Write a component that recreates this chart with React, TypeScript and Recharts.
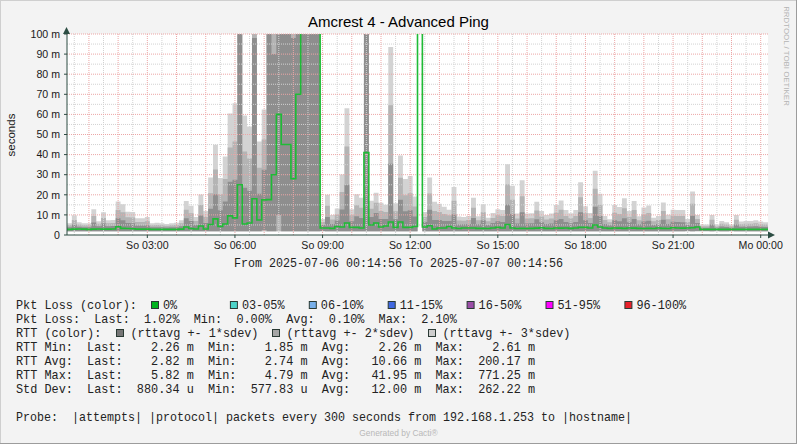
import React from 'react';
import { ComposedChart, Area, Line, XAxis, YAxis, CartesianGrid, ReferenceLine } from 'recharts';

// 10 minute samples, first one at 00:15 (hours since Sunday 00:00)
const START_H = 0.25;
const STEP_H = 1 / 6;

// median RTT (ms) per sample
const rttMed = [
  2.8, 2.9, 3.0, 2.9, 2.8, 2.9, 3.0, 2.9, 2.9, 3.0, 4.1, 3.3,
  3.2, 3.1, 2.9, 2.9, 2.9, 2.8, 2.8, 2.8, 2.8, 2.8, 2.8, 2.9,
  4.0, 3.2, 3.0, 4.5, 3.0, 5.2, 8.0, 4.3, 5.5, 9.5, 8.5, 25,
  5.5, 6, 18, 7.5, 17.5, 17.6, 30, 60, 45, 45, 28, 70,
  160, 180, 180, 180, 3.5, 3.5, 3.3, 4.2, 4.0, 6.0, 3.8, 3.8,
  3.5, 41, 5.0, 6.0, 4.0, 4.5, 6.5, 3.8, 6.5, 3.8, 3.8, 4.2,
  200, 4.0, 4.6, 3.0, 3.5, 3.5, 4.2, 3.5, 3.2, 3.5, 3.5, 3.5,
  3.3, 3.3, 3.2, 3.5, 3.8, 3.5, 5.2, 3.5, 3.2, 3.3, 3.2, 3.3,
  3.4, 3.6, 3.3, 3.2, 3.5, 3.4, 3.5, 3.3, 3.5, 3.8, 3.8, 3.5,
  5.0, 4.0, 3.5, 3.3, 3.5, 3.4, 3.3, 3.5, 3.4, 3.3, 3.2, 3.3,
  3.2, 3.5, 3.3, 3.2, 3.6, 3.5, 3.4, 3.5, 3.6, 4.0, 2.8, 2.8,
  2.8, 2.8, 2.8, 2.8, 2.8, 2.8, 2.8, 2.8, 2.8, 2.8, 2.8, 2.8,
];

// standard deviation (ms) per sample
const rttSdev = [
  1.0, 2.3, 1.1, 1.0, 1.0, 3.3, 1.3, 2.8, 1.5, 1.5, 4.2, 4.0,
  2.8, 2.8, 1.8, 1.8, 2.0, 1.0, 1.1, 1.0, 0.9, 1.0, 1.1, 1.5,
  4.3, 3.8, 2.0, 5.2, 3.0, 7.8, 12.3, 8.0, 11.2, 17, 19, 80,
  18, 16, 80, 13, 15, 85, 60, 50, 60, 60, 70, 120,
  200, 200, 200, 200, 1.5, 5.5, 2.2, 3.0, 8.7, 19, 3.0, 5.5,
  5.0, 60, 4.0, 5.0, 4.0, 3.5, 29, 4.0, 11, 8, 8.5, 5,
  5, 2.5, 8, 4.5, 4, 3.5, 2.8, 6.8, 2.0, 1.8, 2.0, 5.0,
  2.0, 4.0, 1.8, 2.5, 3.0, 3.0, 10, 7, 2.5, 8, 2.5, 2.5,
  4.4, 2.8, 2.2, 2.5, 3.8, 4.6, 3.0, 2.5, 3.0, 7.5, 3.5, 2.5,
  9, 5.5, 2.0, 1.5, 3.8, 3.5, 5.0, 2.8, 4.5, 2.0, 3.5, 3.8,
  1.8, 2.0, 4.3, 2.3, 3.0, 3.0, 3.0, 1.5, 6.0, 2.0, 0.8, 0.8,
  2.4, 0.8, 1.4, 1.2, 0.8, 2.4, 1.3, 1.4, 1.4, 1.5, 1.3, 1.2,
];

const RTT_FLOOR = 1.85;

const xTicks = [3, 6, 9, 12, 15, 18, 21, 24];
const xTickLabels = ['So 03:00', 'So 06:00', 'So 09:00', 'So 12:00', 'So 15:00', 'So 18:00', 'So 21:00', 'Mo 00:00'];
const yTicks = [0, 10, 20, 30, 40, 50, 60, 70, 80, 90, 100];
const yTickLabels = ['0', '10 m', '20 m', '30 m', '40 m', '50 m', '60 m', '70 m', '80 m', '90 m', '100 m'];

const lossBuckets = ['0%', '03-05%', '06-10%', '11-15%', '16-50%', '51-95%', '96-100%'];
const lossColors = ['#00b41e', '#4cd3c8', '#78b0ea', '#4068e0', '#9b4ea6', '#ff00ff', '#e8202a'];
const bandLabels = ['(rttavg +- 1*sdev)', '(rttavg +- 2*sdev)', '(rttavg +- 3*sdev)'];
const bandSwatch = ['#767676', '#a6a6a6', '#cdcdcd'];
const bandFill = ['#8e8e8e', '#b4b4b4', '#d3d3d3'];

const lossSummary = 'Pkt Loss:  Last:  1.02%  Min:  0.00%  Avg:  0.10%  Max:  2.10%';
const rttRows = [
  'RTT Min:  Last:    2.26 m  Min:    1.85 m  Avg:    2.26 m  Max:    2.61 m',
  'RTT Avg:  Last:    2.82 m  Min:    2.74 m  Avg:   10.66 m  Max:  200.17 m',
  'RTT Max:  Last:    5.82 m  Min:    4.79 m  Avg:   41.95 m  Max:  771.25 m',
  'Std Dev:  Last:  880.34 u  Min:  577.83 u  Avg:   12.00 m  Max:  262.22 m',
];
const probeText = 'Probe:  |attempts| |protocol| packets every 300 seconds from 192.168.1.253 to |hostname|';
const rangeText = 'From 2025-07-06 00:14:56 To 2025-07-07 00:14:56';

const W = 797;
const H = 444;
const SANS = '"Liberation Sans", Arial, sans-serif';
const MONO = '"Liberation Mono", "Courier New", monospace';
const CHAR_W = 7.11;
const GREEN = '#1fbb36';
const AXIS = '#2c4d43';

function Mono({ x, y, text, cw = CHAR_W }: { x: number; y: number; text: string; cw?: number }) {
  return (
    <text
      x={x}
      y={y}
      xmlSpace="preserve"
      textLength={text.length * cw}
      lengthAdjust="spacingAndGlyphs"
      style={{ fontFamily: MONO, fontSize: 11.85, fill: '#222', whiteSpace: 'pre' }}
    >
      {text}
    </text>
  );
}

export default function App() {
  const data = rttMed.map((m, i) => {
    const s = rttSdev[i];
    const lo = (k: number) => Math.max(RTT_FLOOR, m - k * s);
    return {
      t: START_H + i * STEP_H,
      med: m,
      sd1: [lo(1), m + s],
      sd2: [lo(2), m + 2 * s],
      sd3: [lo(3), m + 3 * s],
    };
  });
  // close the last step at the right edge
  data.push({ ...data[data.length - 1], t: START_H + rttMed.length * STEP_H });

  const hourLines = Array.from({ length: 24 }, (_, i) => i + 1);
  const halfLines = Array.from({ length: 24 }, (_, i) => i + 0.5);
  const majorY = yTicks.filter((v) => v > 0);
  const minorY = yTicks.slice(0, -1).map((v) => v + 5);

  return (
    <div style={{ position: 'absolute', left: 0, top: 0, width: W, height: H, background: '#f3f3f3' }}>
      <ComposedChart
        width={W}
        height={H}
        data={data}
        margin={{ top: 34, right: 29, bottom: 189, left: 17 }}
      >
        <CartesianGrid fill="#ffffff" horizontal={false} vertical={false} />
        <XAxis
          type="number"
          dataKey="t"
          domain={[START_H, START_H + 24]}
          ticks={xTicks}
          interval={0}
          allowDataOverflow
          tickFormatter={(v: number) => xTickLabels[xTicks.indexOf(v)]}
          height={20}
          tickSize={3}
          tickMargin={3}
          axisLine={{ stroke: AXIS }}
          tickLine={{ stroke: AXIS }}
          tick={{ fontFamily: SANS, fontSize: 10.6, fill: '#1a1a1a' }}
        />
        <YAxis
          domain={[0, 100]}
          ticks={yTicks}
          interval={0}
          allowDataOverflow
          tickFormatter={(v: number) => yTickLabels[yTicks.indexOf(v)]}
          width={50}
          tickSize={3}
          tickMargin={4}
          axisLine={{ stroke: AXIS }}
          tickLine={{ stroke: AXIS }}
          tick={{ fontFamily: SANS, fontSize: 10.6, fill: '#1a1a1a' }}
        />
        <Area dataKey="sd3" type="stepAfter" stroke="none" fill={bandFill[2]} fillOpacity={1} isAnimationActive={false} dot={false} activeDot={false} />
        <Area dataKey="sd2" type="stepAfter" stroke="none" fill={bandFill[1]} fillOpacity={1} isAnimationActive={false} dot={false} activeDot={false} />
        <Area dataKey="sd1" type="stepAfter" stroke="none" fill={bandFill[0]} fillOpacity={1} isAnimationActive={false} dot={false} activeDot={false} />
        {halfLines.map((h) => (
          <ReferenceLine key={`hx${h}`} x={h} stroke="#d2d2d2" strokeDasharray="1 1" />
        ))}
        {minorY.map((v) => (
          <ReferenceLine key={`my${v}`} y={v} stroke="#d2d2d2" strokeDasharray="1 1" />
        ))}
        {hourLines.map((h) => (
          <ReferenceLine key={`x${h}`} x={h} stroke="#eca6a6" strokeDasharray="1 1" />
        ))}
        {majorY.map((v) => (
          <ReferenceLine key={`y${v}`} y={v} stroke="#eca6a6" strokeDasharray="1 1" />
        ))}
        <Line dataKey="med" type="stepAfter" stroke={GREEN} strokeWidth={1.6} dot={false} activeDot={false} isAnimationActive={false} />
      </ComposedChart>

      <svg width={W} height={H} style={{ position: 'absolute', left: 0, top: 0, pointerEvents: 'none' }}>
        {/* frame */}
        <line x1={0} y1={0.5} x2={W} y2={0.5} stroke="#cfcfcf" />
        <line x1={0.5} y1={0} x2={0.5} y2={H} stroke="#cfcfcf" />
        <line x1={W - 0.5} y1={0} x2={W - 0.5} y2={H} stroke="#9c9c9c" />
        <line x1={0} y1={H - 0.5} x2={W} y2={H - 0.5} stroke="#9c9c9c" />

        {/* axis arrows */}
        <polygon points="66.5,27 63,34 70,34" fill={AXIS} />
        <polygon points="775,235 768,231.5 768,238.5" fill={AXIS} />

        <text x={398.5} y={27} textAnchor="middle" fontFamily={SANS} fontSize={15} fill="#000">
          Amcrest 4 - Advanced Ping
        </text>
        <text x={15} y={135} textAnchor="middle" fontFamily={SANS} fontSize={11.5} fill="#1a1a1a" transform="rotate(-90 15 135)">
          seconds
        </text>
        <text x={784} y={56} textAnchor="middle" fontFamily={SANS} fontSize={7.9} fill="#b4b4b4" transform="rotate(90 784 56)">
          RRDTOOL / TOBI OETIKER
        </text>

        <Mono x={234} y={266.7} text={rangeText} cw={7.0} />

        <Mono x={16} y={308.5} text="Pkt Loss (color):" />
        {lossBuckets.map((b, i) => {
          const sx = 151 + i * 78.9;
          return (
            <g key={b}>
              <rect x={sx + 0.5} y={301.5} width={7} height={7} fill={lossColors[i]} stroke="#2a3a34" />
              <Mono x={sx + 12} y={308.5} text={b} />
            </g>
          );
        })}

        <Mono x={16} y={322.5} text={lossSummary} />

        <Mono x={16} y={336.5} text="RTT (color):" />
        {bandLabels.map((b, i) => {
          const sx = 116 + i * 156;
          return (
            <g key={b}>
              <rect x={sx + 0.5} y={329.5} width={7} height={7} fill={bandSwatch[i]} stroke="#2a3a34" />
              <Mono x={sx + 14.5} y={336.5} text={b} />
            </g>
          );
        })}

        {rttRows.map((r, i) => (
          <Mono key={r} x={16} y={350.5 + i * 14} text={r} />
        ))}

        <Mono x={16} y={420.5} text={probeText} cw={7.0} />

        <text x={398.5} y={436} textAnchor="middle" fontFamily={SANS} fontSize={8.4} fill="#b8b8b8">
          Generated by Cacti®
        </text>
      </svg>
    </div>
  );
}
